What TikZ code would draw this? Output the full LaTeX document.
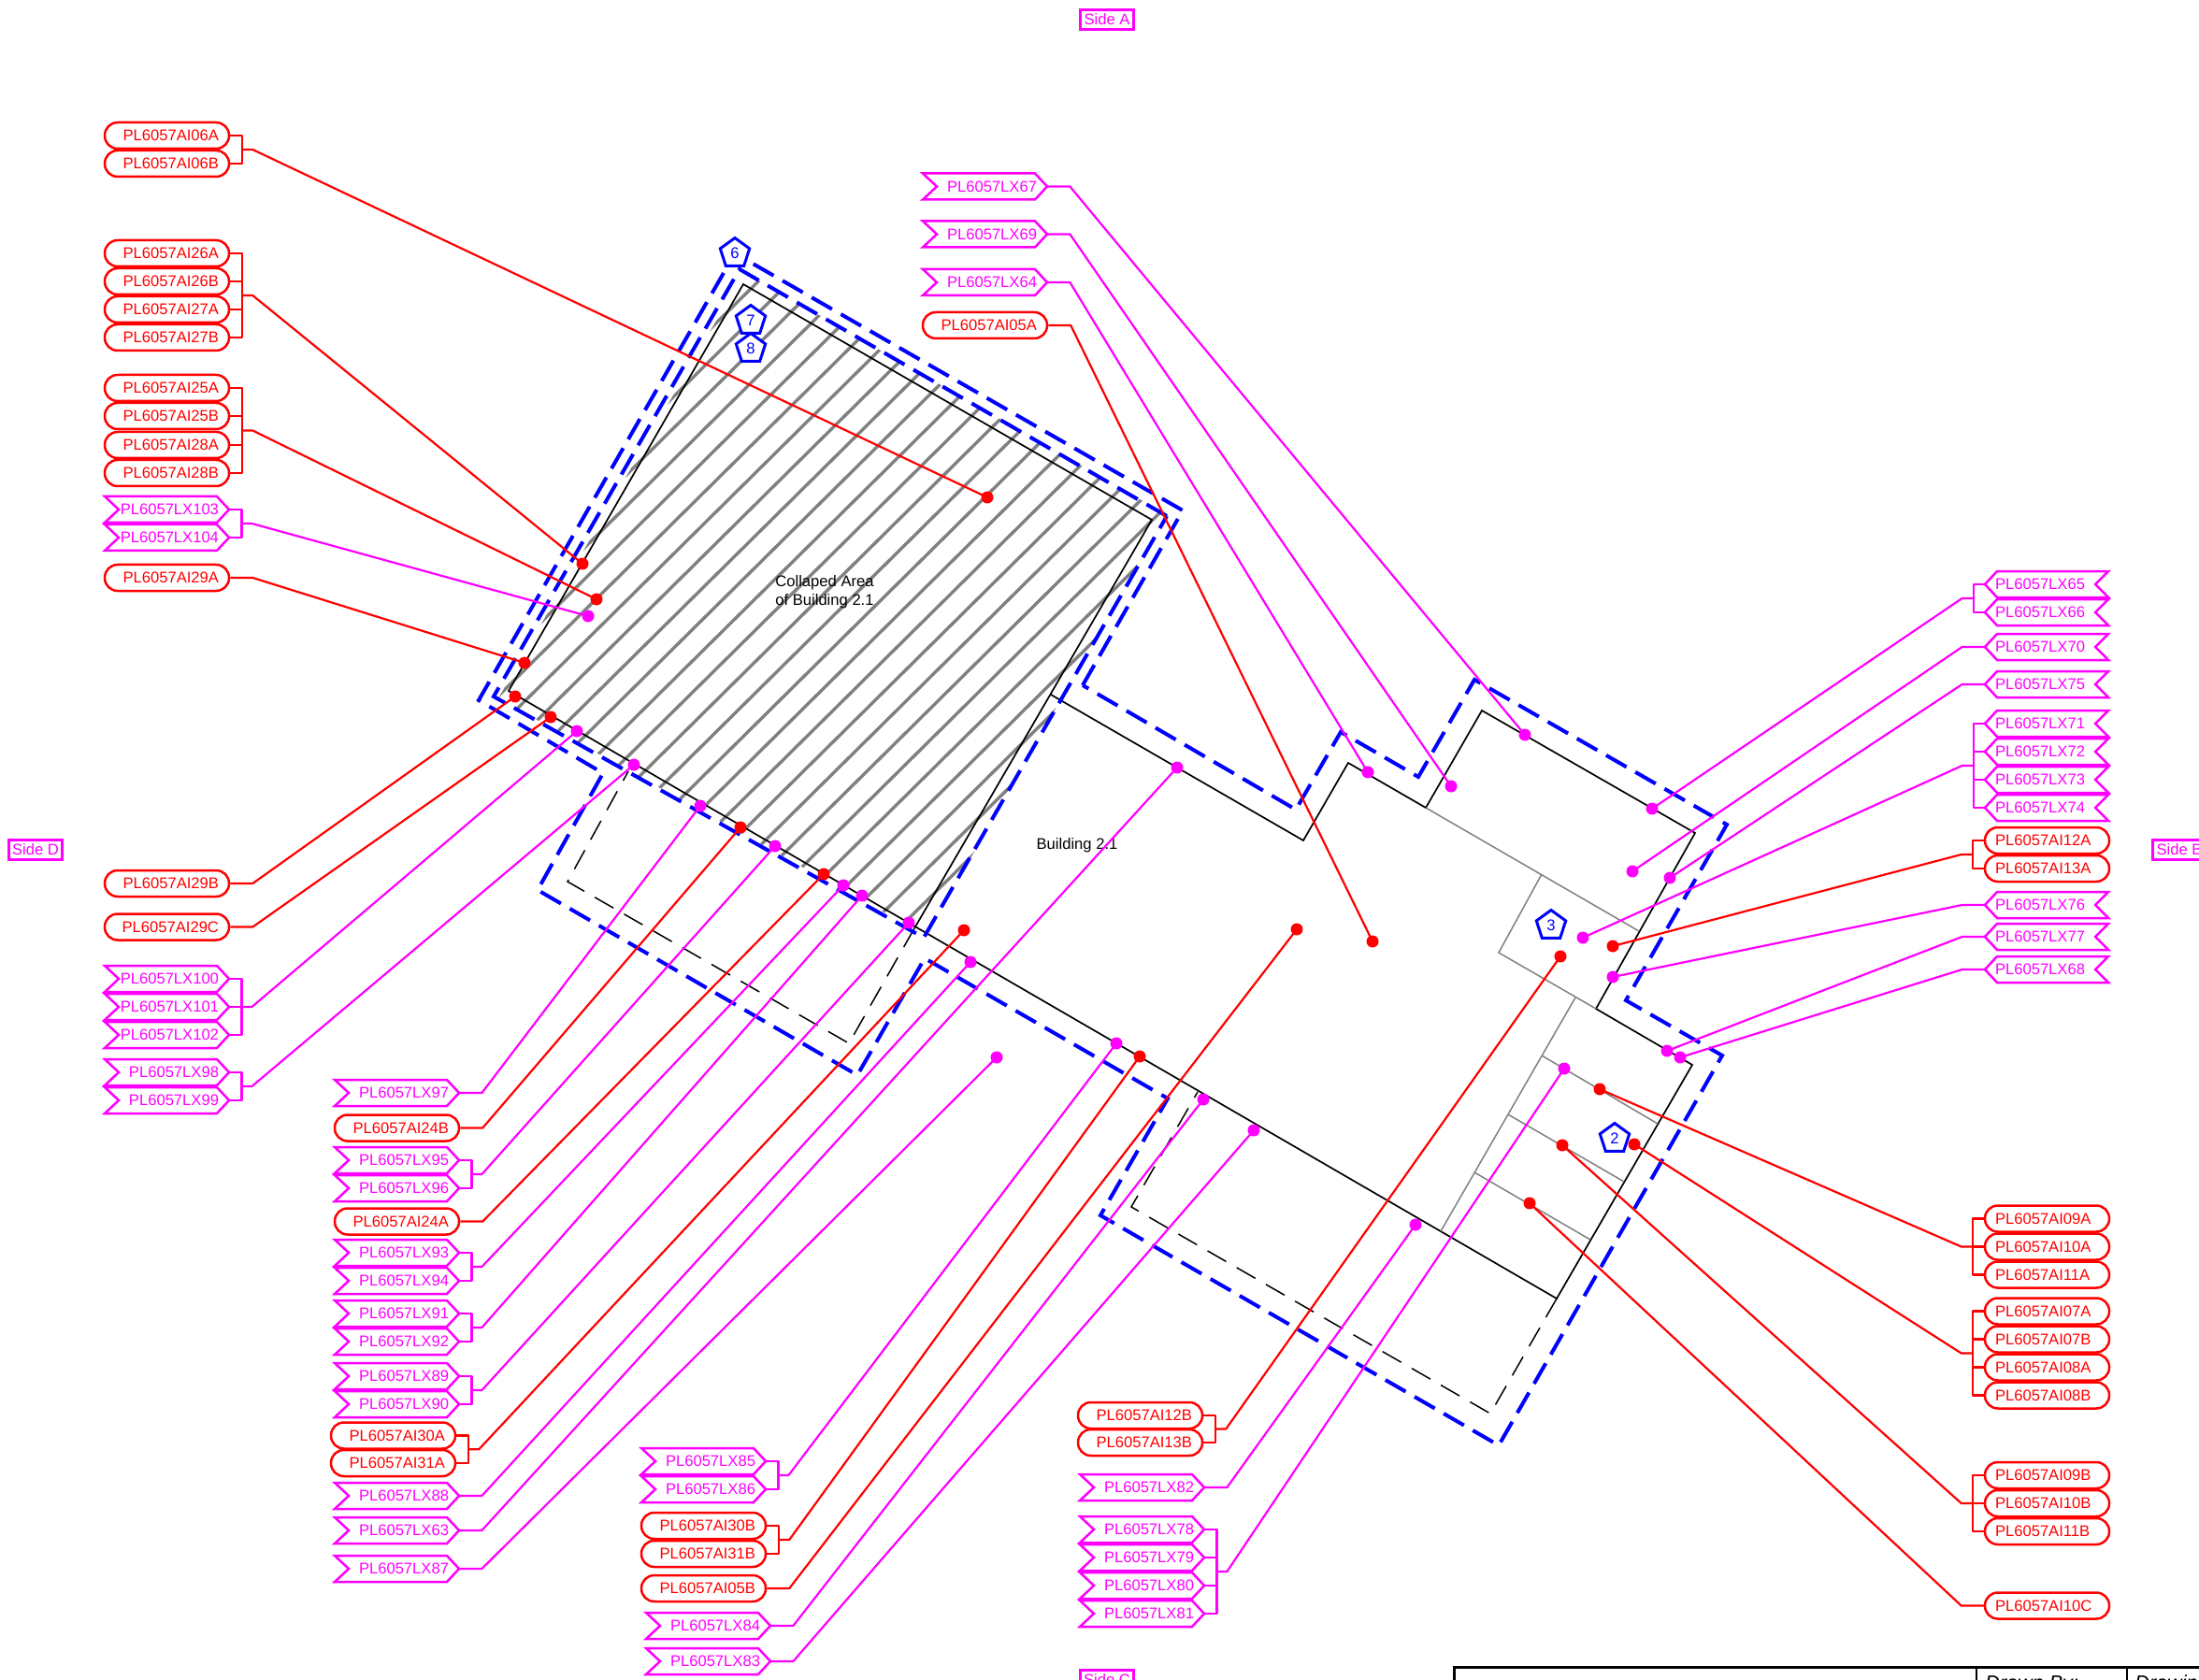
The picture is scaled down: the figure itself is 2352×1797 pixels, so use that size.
\documentclass[tikz,border=0pt]{standalone}
\usepackage{fontspec}
\setmainfont{Liberation Sans}
\usetikzlibrary{calc,shapes.geometric}
\definecolor{mg}{RGB}{255,0,255}
\definecolor{rd}{RGB}{255,0,0}
\definecolor{bl}{RGB}{0,0,255}
\tikzset{
  lab/.style={font=\fontsize{8.3}{10}\selectfont,inner ysep=0pt,minimum height=14pt,text width=55.5pt,inner xsep=5.5pt},
  labL/.style={lab,align=right},
  labR/.style={lab,align=left},
  pillbox/.style={draw=rd,line width=1.25pt,rounded corners=6.9pt,text=rd},
  tagbox/.style={draw=mg,line width=1.25pt,miter limit=4},
  tagtext/.style={text=mg},
  lr/.style={draw=rd,line width=1.1pt,line join=round},
  lm/.style={draw=mg,line width=1.1pt,line join=round},
  dotr/.style={circle,fill=rd,inner sep=0pt,minimum size=6.5pt},
  dotm/.style={circle,fill=mg,inner sep=0pt,minimum size=6.5pt},
  hatchline/.style={draw={rgb,255:red,128;green,128;blue,128},line width=1.7pt},
  wall/.style={draw=black,line width=.85pt,line join=miter},
  walldash/.style={draw=black,line width=.75pt,dash pattern=on 11.5pt off 6.5pt},
  thin gray/.style={draw={rgb,255:red,128;green,128;blue,128},line width=.75pt},
  bluedash/.style={draw=bl,line width=2pt,dash pattern=on 12.5pt off 5.5pt,line join=miter},
  penta/.style={regular polygon,regular polygon sides=5,draw=bl,line width=1.5pt,fill=white,text=bl,minimum size=16.5pt,inner sep=0pt,font=\fontsize{8.3}{10}\selectfont},
  sidebox/.style={draw=mg,line width=1.1pt,text=mg,minimum width=28.5pt,minimum height=10.5pt,inner sep=0pt,font=\fontsize{8.3}{10}\selectfont},
  plain/.style={font=\fontsize{8.3}{10}\selectfont,text=black,inner sep=0pt,align=center},
  tbl/.style={font=\fontsize{10.8}{12}\selectfont\itshape,text=black,inner sep=0pt,anchor=base west},
}
% name, left x, y, text
\newcommand{\pillL}[4]{\node[labL,pillbox] (#1) at ({#2+66.5},#3) {#4};}
\newcommand{\pillR}[4]{\node[labR,pillbox] (#1) at ({#2+66.5},#3) {#4};}
\newcommand{\tagL}[4]{\draw[tagbox] (#2,{#3-14}) -- ({#2+120},{#3-14}) -- ({#2+133},#3) -- ({#2+120},{#3+14}) -- (#2,{#3+14}) -- ({#2+15},#3) -- cycle;
  \node[labL,tagtext] (#1) at ({#2+66.5},#3) {#4};}
\newcommand{\tagR}[4]{\draw[tagbox] (#2,#3) -- ({#2+13},{#3-14}) -- ({#2+132},{#3-14}) -- ({#2+118},#3) -- ({#2+132},{#3+14}) -- ({#2+13},{#3+14}) -- cycle;
  \node[labR,tagtext] (#1) at ({#2+66.5},#3) {#4};}
% connectors: left labels (east side), right labels (west side)
\newcommand{\oneL}[3]{\draw[#1] (#2.east) -- ++(24,0) -- (#3.center);}
\newcommand{\oneR}[3]{\draw[#1] (#2.west) -- ++(-24,0) -- (#3.center);}
\newcommand{\grpL}[4]{\draw[#1] (#2.east) -- ++(13,0) -- ($(#3.east)+(13,0)$) -- (#3.east);
  \draw[#1] ($(#2.east)!.5!(#3.east)+(13,0)$) -- ++(11,0) -- (#4.center);}
\newcommand{\grpR}[4]{\draw[#1] (#2.west) -- ++(-12,0) -- ($(#3.west)+(-12,0)$) -- (#3.west);
  \draw[#1] ($(#2.west)!.5!(#3.west)+(-12,0)$) -- ++(-12,0) -- (#4.center);}
\newcommand{\midL}[2]{\draw[#1] (#2.east) -- ++(13,0);}
\newcommand{\midR}[2]{\draw[#1] (#2.west) -- ++(-12,0);}
\begin{document}
\begin{tikzpicture}[x=0.5pt,y=-0.5pt]
\useasboundingbox (0,0) rectangle (2352,1797);
\clip (0,0) rectangle (2352,1797);
% hatch
\begin{scope}
\clip (796,291) -- (1247,550) -- (991,1001) -- (533,747) -- cycle;
\foreach \i in {0,...,25}
  \draw[hatchline] ({812+21.5*\i-700},{300+12.35*\i+700*.99}) -- ({812+21.5*\i+100},{300+12.35*\i-100*.99});
\end{scope}
% walls
\draw[wall] (978,993) -- (1232,556) -- (795,304) -- (544,739) -- (1665,1389) -- (1810,1139) -- (1707,1079) -- (1813,891) -- (1585,760) -- (1525,864) -- (1442,816) -- (1394,899) -- (1124,743);
\draw[walldash] (1665,1389) -- (1594,1512) -- (1210,1291) -- (1281,1168);
\draw[walldash] (978,993) -- (908,1116) -- (607,943) -- (672,825);
\draw[thin gray] (1525,864) -- (1753,996);
\draw[thin gray] (1649,935) -- (1603,1019) -- (1707,1079);
\draw[thin gray] (1685,1067) -- (1541,1317);
\draw[thin gray] (1649,1129) -- (1773,1202);
\draw[thin gray] (1613,1192) -- (1737,1264);
\draw[thin gray] (1577,1254) -- (1701,1326);
% blue limits
\draw[bluedash] (1158,733) -- (1265,546) -- (786,271) -- (512,749) -- (645,827) -- (575,952) -- (917,1150) -- (989,1025) -- (1249,1175) -- (1177,1300) -- (1603,1546) -- (1842,1129) -- (1739,1070) -- (1847,882) -- (1577,727) -- (1517,831) -- (1434,783) -- (1386,866) -- cycle;
\draw[bluedash] (1248,552) -- (791,288) -- (528,745) -- (988,1003) -- cycle;
% texts
\node[plain] (tcoll) at (882,633) {Collaped Area\\of Building 2.1};
\node[plain] (tbld) at (1152,904) {Building 2.1};
% side labels
\node[sidebox] (sa) at (1184,21) {Side A};
\node[sidebox] (sd) at (38,909) {Side D};
\node[sidebox] (sb) at (2331,909) {Side B};
\node[sidebox] (sc) at (1184,1797) {Side C};
% pentagons
\node[penta] (p6) at (786,271) {6};
\node[penta] (p7) at (803,343) {7};
\node[penta] (p8) at (803,373) {8};
\node[penta] (p3) at (1659,990) {3};
\node[penta] (p2) at (1727,1218) {2};
% title block
\draw[line width=1.5pt] (1555,1797) -- (1555,1783) -- (2352,1783);
\draw[line width=1pt] (2114,1783) -- (2114,1797);
\draw[line width=1pt] (2275,1783) -- (2275,1797);
\node[tbl] (tb1) at (2123,1807) {Drawn By:};
\node[tbl] (tb2) at (2283,1807) {Drawin};
% dots
\foreach \n/\x/\y in {d06/1056/532,d26/623/603,d25/638/641,d29a/561/709,d29b/551/745,d29c/589/767,d24b/792/885,d24a/881/935,d30a/1031/995,d05b/1387/994,d05a/1468/1007,d30b/1219/1130,d12b/1669/1023,d12a/1725/1012,d09a/1711/1165,d07/1748/1224,d09b/1671/1225,d10c/1636/1287}
  \node[dotr] (\n) at (\x,\y) {};
\foreach \n/\x/\y in {d103/629/659,d100/617/782,d98/678/818,d97/749/862,d95/829/905,d93/902/947,d91/922/958,d89/972/987,d88/1038/1029,d63/1259/821,d87/1066/1131,d67/1631/786,d69/1552/841,d64/1463/826,d65/1767/865,d70/1746/932,d75/1786/939,d71/1693/1003,d76/1725/1045,d77/1783/1124,d68/1797/1131,d85/1194/1116,d84/1287/1176,d83/1341/1209,d78/1673/1143,d82/1514/1310}
  \node[dotm] (\n) at (\x,\y) {};
% left column
\pillL{a06a}{112}{145}{PL6057AI06A}
\pillL{a06b}{112}{175}{PL6057AI06B}
\pillL{a26a}{112}{271}{PL6057AI26A}
\pillL{a26b}{112}{301}{PL6057AI26B}
\pillL{a27a}{112}{331}{PL6057AI27A}
\pillL{a27b}{112}{361}{PL6057AI27B}
\pillL{a25a}{112}{415}{PL6057AI25A}
\pillL{a25b}{112}{445}{PL6057AI25B}
\pillL{a28a}{112}{476}{PL6057AI28A}
\pillL{a28b}{112}{506}{PL6057AI28B}
\tagL{l103}{112}{545}{PL6057LX103}
\tagL{l104}{112}{575}{PL6057LX104}
\pillL{a29a}{112}{618}{PL6057AI29A}
\pillL{a29b}{112}{945}{PL6057AI29B}
\pillL{a29c}{112}{991.5}{PL6057AI29C}
\tagL{l100}{112}{1047}{PL6057LX100}
\tagL{l101}{112}{1077}{PL6057LX101}
\tagL{l102}{112}{1107}{PL6057LX102}
\tagL{l98}{112}{1147}{PL6057LX98}
\tagL{l99}{112}{1177}{PL6057LX99}
% second column
\tagL{l97}{358}{1169}{PL6057LX97}
\pillL{a24b}{358}{1206.5}{PL6057AI24B}
\tagL{l95}{358}{1241}{PL6057LX95}
\tagL{l96}{358}{1271}{PL6057LX96}
\pillL{a24a}{358}{1306.5}{PL6057AI24A}
\tagL{l93}{358}{1340}{PL6057LX93}
\tagL{l94}{358}{1370}{PL6057LX94}
\tagL{l91}{358}{1405}{PL6057LX91}
\tagL{l92}{358}{1435}{PL6057LX92}
\tagL{l89}{358}{1472}{PL6057LX89}
\tagL{l90}{358}{1502}{PL6057LX90}
\pillL{a30a}{354}{1535.5}{PL6057AI30A}
\pillL{a31a}{354}{1565}{PL6057AI31A}
\tagL{l88}{358}{1600}{PL6057LX88}
\tagL{l63}{358}{1637}{PL6057LX63}
\tagL{l87}{358}{1678}{PL6057LX87}
% third column
\tagL{l85}{686}{1563}{PL6057LX85}
\tagL{l86}{686}{1593}{PL6057LX86}
\pillL{a30b}{686}{1632}{PL6057AI30B}
\pillL{a31b}{686}{1662}{PL6057AI31B}
\pillL{a05b}{686}{1699}{PL6057AI05B}
\tagL{l84}{691}{1739}{PL6057LX84}
\tagL{l83}{691}{1777}{PL6057LX83}
% fourth column
\pillL{a12b}{1153}{1514}{PL6057AI12B}
\pillL{a13b}{1153}{1543}{PL6057AI13B}
\tagL{l82}{1155}{1591}{PL6057LX82}
\tagL{l78}{1155}{1636}{PL6057LX78}
\tagL{l79}{1155}{1666}{PL6057LX79}
\tagL{l80}{1155}{1696}{PL6057LX80}
\tagL{l81}{1155}{1726}{PL6057LX81}
% top column
\tagL{l67}{987}{199.5}{PL6057LX67}
\tagL{l69}{987}{250.5}{PL6057LX69}
\tagL{l64}{987}{302}{PL6057LX64}
\pillL{a05a}{987}{348}{PL6057AI05A}
% right column
\tagR{l65}{2123}{625}{PL6057LX65}
\tagR{l66}{2123}{655}{PL6057LX66}
\tagR{l70}{2123}{692}{PL6057LX70}
\tagR{l75}{2123}{732}{PL6057LX75}
\tagR{l71}{2123}{774}{PL6057LX71}
\tagR{l72}{2123}{804}{PL6057LX72}
\tagR{l73}{2123}{834}{PL6057LX73}
\tagR{l74}{2123}{864}{PL6057LX74}
\pillR{a12a}{2123}{899}{PL6057AI12A}
\pillR{a13a}{2123}{929}{PL6057AI13A}
\tagR{l76}{2123}{968}{PL6057LX76}
\tagR{l77}{2123}{1002}{PL6057LX77}
\tagR{l68}{2123}{1037}{PL6057LX68}
\pillR{a09a}{2123}{1303.5}{PL6057AI09A}
\pillR{a10a}{2123}{1333.5}{PL6057AI10A}
\pillR{a11a}{2123}{1363.5}{PL6057AI11A}
\pillR{a07a}{2123}{1402.5}{PL6057AI07A}
\pillR{a07b}{2123}{1432.5}{PL6057AI07B}
\pillR{a08a}{2123}{1462.5}{PL6057AI08A}
\pillR{a08b}{2123}{1492.5}{PL6057AI08B}
\pillR{a09b}{2123}{1578}{PL6057AI09B}
\pillR{a10b}{2123}{1608}{PL6057AI10B}
\pillR{a11b}{2123}{1638}{PL6057AI11B}
\pillR{a10c}{2123}{1717.5}{PL6057AI10C}
% connectors
\grpL{lr}{a06a}{a06b}{d06}
\grpL{lr}{a26a}{a27b}{d26} \midL{lr}{a26b} \midL{lr}{a27a}
\grpL{lr}{a25a}{a28b}{d25} \midL{lr}{a25b} \midL{lr}{a28a}
\grpL{lm}{l103}{l104}{d103}
\oneL{lr}{a29a}{d29a}
\oneL{lr}{a29b}{d29b}
\oneL{lr}{a29c}{d29c}
\grpL{lm}{l100}{l102}{d100} \midL{lm}{l101}
\grpL{lm}{l98}{l99}{d98}
\oneL{lm}{l97}{d97}
\oneL{lr}{a24b}{d24b}
\grpL{lm}{l95}{l96}{d95}
\oneL{lr}{a24a}{d24a}
\grpL{lm}{l93}{l94}{d93}
\grpL{lm}{l91}{l92}{d91}
\grpL{lm}{l89}{l90}{d89}
\grpL{lr}{a30a}{a31a}{d30a}
\oneL{lm}{l88}{d88}
\oneL{lm}{l63}{d63}
\oneL{lm}{l87}{d87}
\grpL{lm}{l85}{l86}{d85}
\grpL{lr}{a30b}{a31b}{d30b}
\oneL{lr}{a05b}{d05b}
\oneL{lm}{l84}{d84}
\oneL{lm}{l83}{d83}
\grpL{lr}{a12b}{a13b}{d12b}
\oneL{lm}{l82}{d82}
\grpL{lm}{l78}{l81}{d78} \midL{lm}{l79} \midL{lm}{l80}
\oneL{lm}{l67}{d67}
\oneL{lm}{l69}{d69}
\oneL{lm}{l64}{d64}
\oneL{lr}{a05a}{d05a}
\grpR{lm}{l65}{l66}{d65}
\oneR{lm}{l70}{d70}
\oneR{lm}{l75}{d75}
\grpR{lm}{l71}{l74}{d71} \midR{lm}{l72} \midR{lm}{l73}
\grpR{lr}{a12a}{a13a}{d12a}
\oneR{lm}{l76}{d76}
\oneR{lm}{l77}{d77}
\oneR{lm}{l68}{d68}
\grpR{lr}{a09a}{a11a}{d09a} \midR{lr}{a10a}
\grpR{lr}{a07a}{a08b}{d07} \midR{lr}{a07b} \midR{lr}{a08a}
\grpR{lr}{a09b}{a11b}{d09b} \midR{lr}{a10b}
\oneR{lr}{a10c}{d10c}
\end{tikzpicture}
\end{document}
